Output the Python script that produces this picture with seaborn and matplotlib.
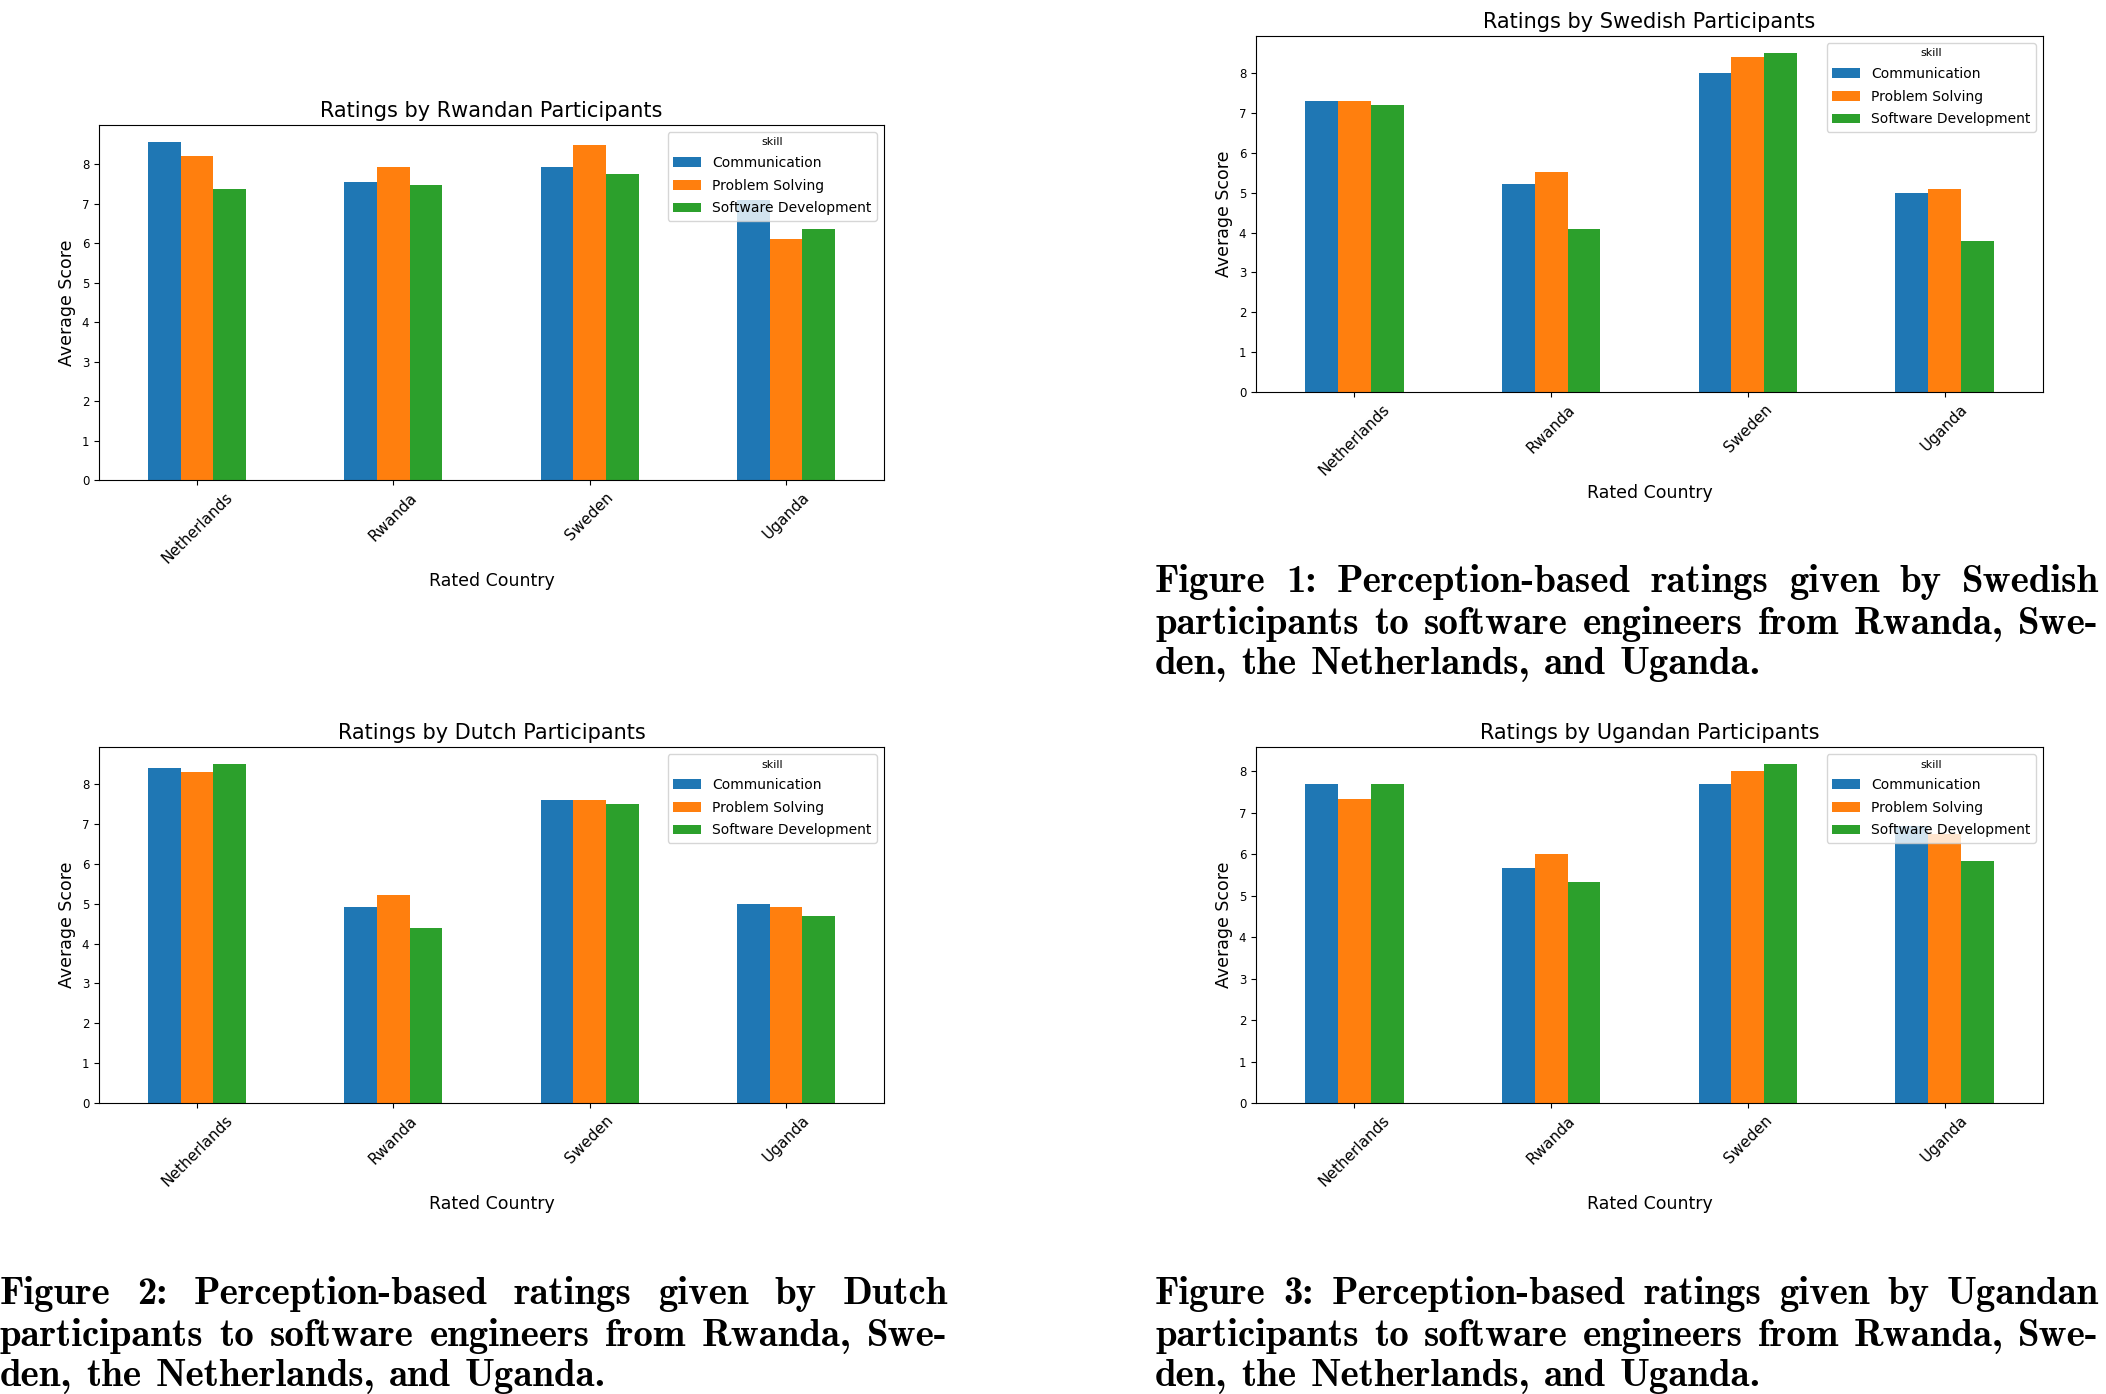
import matplotlib
matplotlib.use("Agg")
import matplotlib.pyplot as plt
import pandas as pd
import seaborn as sns

# data
countries = ["Netherlands", "Rwanda", "Sweden", "Uganda"]
skills = ["Communication", "Problem Solving", "Software Development"]

# Ratings by Rwandan participants
rw_comm = [8.56, 7.55, 7.93, 7.09]
rw_prob = [8.21, 7.93, 8.49, 6.11]
rw_soft = [7.37, 7.47, 7.75, 6.36]

# Ratings by Swedish participants
se_comm = [7.31, 5.23, 8.01, 5.00]
se_prob = [7.31, 5.53, 8.41, 5.10]
se_soft = [7.21, 4.10, 8.51, 3.80]

# Ratings by Dutch participants
nl_comm = [8.41, 4.92, 7.61, 5.00]
nl_prob = [8.31, 5.23, 7.61, 4.92]
nl_soft = [8.51, 4.40, 7.51, 4.70]

# Ratings by Ugandan participants
ug_comm = [7.69, 5.67, 7.69, 6.68]
ug_prob = [7.33, 6.01, 8.00, 6.49]
ug_soft = [7.69, 5.33, 8.18, 5.84]

colors = ["#1f77b4", "#ff7f0e", "#2ca02c"]

W, H = 2106, 1394


def to_long(comm, prob, soft):
    rows = []
    for skill, vals in zip(skills, [comm, prob, soft]):
        for c, v in zip(countries, vals):
            rows.append({"Rated Country": c, "skill": skill, "Average Score": v})
    return pd.DataFrame(rows)


def panel(fig, rect, title, comm, prob, soft):
    left, top, right, bottom = rect
    ax = fig.add_axes([left / W, 1 - bottom / H, (right - left) / W, (bottom - top) / H])
    df = to_long(comm, prob, soft)
    sns.barplot(data=df, x="Rated Country", y="Average Score", hue="skill",
                palette=colors, width=0.5, gap=0, saturation=1,
                errorbar=None, ax=ax)
    ax.set_yticks(range(9))
    ax.tick_params(axis="x", labelsize=11, rotation=45)
    ax.tick_params(axis="y", labelsize=8.5)
    ax.set_title(title, fontsize=15)
    ax.set_xlabel("Rated Country", fontsize=12.5)
    ax.set_ylabel("Average Score", fontsize=12.5)
    sns.move_legend(ax, "upper right", title="skill", fontsize=10,
                    title_fontsize=8, labelspacing=0.62)
    return ax


def caption(fig, x0, x1, baselines, lines, size=28):
    # justified caption lines in bold Computer Modern, last line flush left
    renderer = fig.canvas.get_renderer()
    space = 0.36 * size * 100 / 72
    for i, (y, line) in enumerate(zip(baselines, lines)):
        texts = [fig.text(0, 1 - y / H, word, fontsize=size, va="baseline",
                          fontfamily="cmb10")
                 for word in line.split(" ")]
        widths = [t.get_window_extent(renderer).width for t in texts]
        if i < len(lines) - 1:
            gap = (x1 - x0 - sum(widths)) / (len(texts) - 1)
        else:
            gap = space
        x = x0
        for t, w in zip(texts, widths):
            t.set_x(x / W)
            x += w + gap


fig = plt.figure(figsize=(W / 100, H / 100), dpi=100)

panel(fig, (99, 125, 884, 480), "Ratings by Rwandan Participants", rw_comm, rw_prob, rw_soft)
panel(fig, (1256, 36, 2043, 392), "Ratings by Swedish Participants", se_comm, se_prob, se_soft)
panel(fig, (99, 747, 884, 1103), "Ratings by Dutch Participants", nl_comm, nl_prob, nl_soft)
panel(fig, (1256, 747, 2043, 1103), "Ratings by Ugandan Participants", ug_comm, ug_prob, ug_soft)

caption(fig, 1155, 2099, [592, 634, 674], [
    "Figure 1: Perception-based ratings given by Swedish",
    "participants to software engineers from Rwanda, Swe-",
    "den, the Netherlands, and Uganda.",
])
caption(fig, 0, 948, [1304, 1346, 1386], [
    "Figure 2: Perception-based ratings given by Dutch",
    "participants to software engineers from Rwanda, Swe-",
    "den, the Netherlands, and Uganda.",
])
caption(fig, 1155, 2099, [1304, 1346, 1386], [
    "Figure 3: Perception-based ratings given by Ugandan",
    "participants to software engineers from Rwanda, Swe-",
    "den, the Netherlands, and Uganda.",
])

fig.savefig("out.png", dpi=100)
